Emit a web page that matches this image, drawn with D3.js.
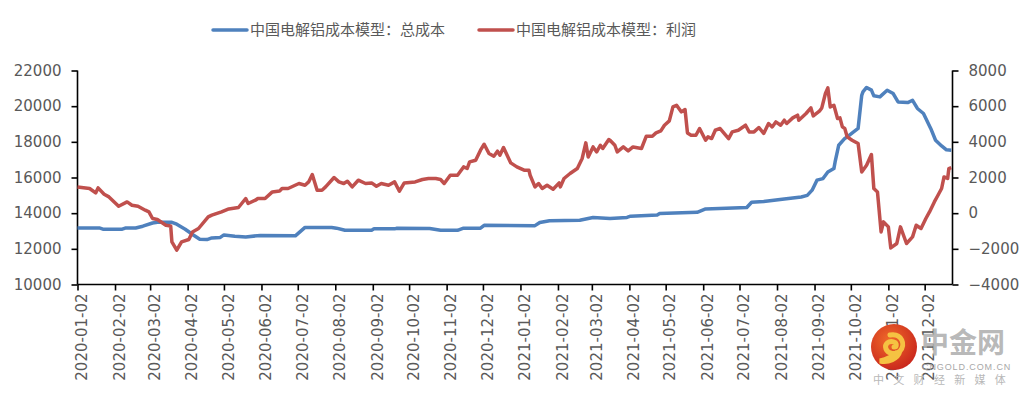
<!DOCTYPE html>
<html>

<head>
    <meta charset="utf-8">
    <title>中国电解铝成本模型</title>
    <style>
        body { margin: 0; background: #fff; }
        svg { display: block; }
        .tick-label { font-family: "DejaVu Sans", sans-serif; font-size: 15px; fill: #595959; }
        .legend-text { font-family: "Noto Sans CJK SC", sans-serif; font-size: 15px; fill: #595959; }
    </style>
</head>

<body>
    <script src="https://cdn.jsdelivr.net/npm/d3@7/dist/d3.min.js"></script>
    <script>
    // 系列名称
    let seriesNames = ["中国电解铝成本模型：总成本", "中国电解铝成本模型：利润"];

    // 坐标轴刻度
    let leftTicks = [10000, 12000, 14000, 16000, 18000, 20000, 22000];
    let rightTicks = [-4000, -2000, 0, 2000, 4000, 6000, 8000];
    let xTickLabels = ["2020-01-02", "2020-02-02", "2020-03-02", "2020-04-02", "2020-05-02", "2020-06-02",
        "2020-07-02", "2020-08-02", "2020-09-02", "2020-10-02", "2020-11-02", "2020-12-02",
        "2021-01-02", "2021-02-02", "2021-03-02", "2021-04-02", "2021-05-02", "2021-06-02",
        "2021-07-02", "2021-08-02", "2021-09-02", "2021-10-02", "2021-11-02", "2021-12-02"];

    // 总成本（左轴）
    let costData = [
        ["2020-01-02", 13170], ["2020-01-20", 13170], ["2020-01-23", 13100], ["2020-02-08", 13100],
        ["2020-02-11", 13170], ["2020-02-19", 13170], ["2020-02-25", 13270], ["2020-03-04", 13450],
        ["2020-03-08", 13490], ["2020-03-20", 13490], ["2020-03-24", 13380], ["2020-03-31", 13100],
        ["2020-04-07", 12760], ["2020-04-12", 12540], ["2020-04-18", 12520], ["2020-04-22", 12610],
        ["2020-04-29", 12640], ["2020-05-02", 12780], ["2020-05-11", 12710], ["2020-05-20", 12670],
        ["2020-06-01", 12750], ["2020-06-30", 12730], ["2020-07-08", 13200], ["2020-07-30", 13200],
        ["2020-08-03", 13160], ["2020-08-10", 13040], ["2020-09-01", 13040], ["2020-09-03", 13120],
        ["2020-09-20", 13120], ["2020-09-22", 13150], ["2020-10-19", 13140], ["2020-10-28", 13040],
        ["2020-11-11", 13040], ["2020-11-16", 13160], ["2020-11-30", 13160], ["2020-12-03", 13320],
        ["2021-01-14", 13300], ["2021-01-18", 13480], ["2021-01-26", 13580], ["2021-02-20", 13600],
        ["2021-03-03", 13760], ["2021-03-17", 13700], ["2021-03-31", 13760], ["2021-04-03", 13830],
        ["2021-04-25", 13900], ["2021-04-27", 13980], ["2021-05-28", 14050], ["2021-06-04", 14240],
        ["2021-07-08", 14320], ["2021-07-12", 14610], ["2021-07-22", 14650], ["2021-08-08", 14800],
        ["2021-08-22", 14910], ["2021-08-27", 15000], ["2021-08-31", 15290], ["2021-09-04", 15850],
        ["2021-09-09", 15940], ["2021-09-13", 16310], ["2021-09-18", 16500], ["2021-09-19", 16870],
        ["2021-09-22", 17810], ["2021-09-27", 18190], ["2021-09-29", 18280], ["2021-10-08", 18750],
        ["2021-10-11", 20610], ["2021-10-12", 20800], ["2021-10-15", 21050], ["2021-10-19", 20900],
        ["2021-10-21", 20580], ["2021-10-26", 20520], ["2021-11-01", 20890], ["2021-11-06", 20710],
        ["2021-11-10", 20240], ["2021-11-18", 20200], ["2021-11-22", 20330], ["2021-11-26", 19870],
        ["2021-12-01", 19590], ["2021-12-07", 18750], ["2021-12-11", 18090], ["2021-12-16", 17770],
        ["2021-12-20", 17550], ["2021-12-24", 17530]
    ];

    // 利润（右轴）
    let profitData = [
        ["2020-01-02", 1473], ["2020-01-12", 1383], ["2020-01-17", 1136], ["2020-01-19", 1417],
        ["2020-01-24", 1063], ["2020-01-28", 912], ["2020-02-05", 390], ["2020-02-12", 631],
        ["2020-02-16", 446], ["2020-02-21", 390], ["2020-02-27", 166], ["2020-03-01", 71],
        ["2020-03-04", -300], ["2020-03-08", -356], ["2020-03-15", -675], ["2020-03-19", -714],
        ["2020-03-20", -1611], ["2020-03-24", -2077], ["2020-03-28", -1611], ["2020-04-03", -1477],
        ["2020-04-06", -1051], ["2020-04-11", -860], ["2020-04-19", -210], ["2020-04-22", -114],
        ["2020-04-30", 71], ["2020-05-06", 239], ["2020-05-14", 317], ["2020-05-20", 822],
        ["2020-05-22", 542], ["2020-05-28", 727], ["2020-05-30", 822], ["2020-06-05", 822],
        ["2020-06-11", 1192], ["2020-06-17", 1248], ["2020-06-19", 1383], ["2020-06-24", 1383],
        ["2020-07-03", 1663], ["2020-07-08", 1568], ["2020-07-11", 1753], ["2020-07-14", 2168],
        ["2020-07-18", 1288], ["2020-07-22", 1288], ["2020-07-25", 1473], ["2020-08-01", 2000],
        ["2020-08-05", 1753], ["2020-08-09", 1663], ["2020-08-12", 1792], ["2020-08-16", 1473],
        ["2020-08-21", 1848], ["2020-08-27", 1663], ["2020-09-01", 1697], ["2020-09-05", 1512],
        ["2020-09-09", 1663], ["2020-09-15", 1568], ["2020-09-20", 1753], ["2020-09-24", 1231],
        ["2020-09-28", 1697], ["2020-10-07", 1753], ["2020-10-13", 1888], ["2020-10-18", 1943],
        ["2020-10-24", 1943], ["2020-10-28", 1888], ["2020-10-31", 1663], ["2020-11-05", 2128],
        ["2020-11-11", 2128], ["2020-11-16", 2594], ["2020-11-19", 2504], ["2020-11-21", 2874],
        ["2020-11-26", 2970], ["2020-11-30", 3530], ["2020-12-03", 3866], ["2020-12-07", 3345],
        ["2020-12-11", 3194], ["2020-12-14", 3474], ["2020-12-16", 3250], ["2020-12-19", 3682],
        ["2020-12-25", 2818], ["2020-12-30", 2594], ["2021-01-05", 2409], ["2021-01-09", 2409],
        ["2021-01-10", 2128], ["2021-01-14", 1473], ["2021-01-17", 1663], ["2021-01-20", 1383],
        ["2021-01-24", 1568], ["2021-01-29", 1344], ["2021-02-03", 1697], ["2021-02-04", 1473],
        ["2021-02-07", 1943], ["2021-02-12", 2224], ["2021-02-18", 2504], ["2021-02-22", 3065],
        ["2021-02-25", 3940], ["2021-02-27", 3154], ["2021-03-03", 3715], ["2021-03-06", 3435],
        ["2021-03-09", 3810], ["2021-03-11", 3626], ["2021-03-16", 4130], ["2021-03-17", 4091],
        ["2021-03-21", 3810], ["2021-03-23", 3435], ["2021-03-28", 3715], ["2021-04-01", 3491],
        ["2021-04-05", 3715], ["2021-04-12", 3626], ["2021-04-16", 4315], ["2021-04-21", 4315],
        ["2021-04-24", 4500], ["2021-04-28", 4612], ["2021-05-01", 4932], ["2021-05-05", 5173],
        ["2021-05-08", 5958], ["2021-05-11", 6053], ["2021-05-15", 5678], ["2021-05-18", 5813],
        ["2021-05-20", 4500], ["2021-05-23", 4371], ["2021-05-27", 4371], ["2021-05-30", 4747],
        ["2021-06-04", 4091], ["2021-06-06", 4277], ["2021-06-09", 4184], ["2021-06-12", 4652],
        ["2021-06-16", 4747], ["2021-06-23", 4184], ["2021-06-26", 4556], ["2021-07-01", 4652],
        ["2021-07-07", 4932], ["2021-07-10", 4556], ["2021-07-14", 4556], ["2021-07-18", 4803],
        ["2021-07-22", 4467], ["2021-07-26", 5027], ["2021-07-29", 4837], ["2021-08-01", 5117],
        ["2021-08-05", 4932], ["2021-08-08", 5212], ["2021-08-10", 5027], ["2021-08-15", 5342],
        ["2021-08-19", 5493], ["2021-08-20", 5212], ["2021-08-26", 5588], ["2021-08-30", 5902],
        ["2021-09-01", 5453], ["2021-09-06", 5717], ["2021-09-08", 5902], ["2021-09-11", 6709],
        ["2021-09-13", 7023], ["2021-09-15", 5958], ["2021-09-18", 6053], ["2021-09-21", 5308],
        ["2021-09-23", 5342], ["2021-09-25", 4837], ["2021-09-27", 4747], ["2021-09-29", 4276],
        ["2021-10-03", 4091], ["2021-10-08", 3906], ["2021-10-11", 2314], ["2021-10-15", 2690],
        ["2021-10-19", 3290], ["2021-10-21", 1383], ["2021-10-24", 1192], ["2021-10-27", -1050],
        ["2021-10-29", -490], ["2021-11-02", -770], ["2021-11-04", -1950], ["2021-11-09", -1700],
        ["2021-11-12", -770], ["2021-11-17", -1700], ["2021-11-22", -1330], ["2021-11-25", -675],
        ["2021-11-29", -860], ["2021-12-03", -300], ["2021-12-06", 71], ["2021-12-10", 631],
        ["2021-12-13", 1007], ["2021-12-16", 1383], ["2021-12-18", 2033], ["2021-12-21", 1943],
        ["2021-12-22", 2504], ["2021-12-24", 2560]
    ];

    let colors = ["#4F81BD", "#C0504D"];

    // 画布
    let width = 1027,
        height = 397;
    let plot = { left: 77.5, right: 952.5, top: 70.5, bottom: 284.5 };

    let svg = d3.select("body").append("svg").attr("width", width).attr("height", height);

    let parse = d3.timeParse("%Y-%m-%d");

    // 比例尺
    let xScale = d3.scaleTime()
        .domain([parse("2020-01-02"), parse("2021-12-25")])
        .range([plot.left, plot.right]);
    let yLeft = d3.scaleLinear().domain([10000, 22000]).range([plot.bottom, plot.top]);
    let yRight = d3.scaleLinear().domain([-4000, 8000]).range([plot.bottom, plot.top]);

    // 坐标轴
    let xAxis = d3.axisBottom(xScale)
        .tickValues(xTickLabels.map(parse))
        .tickSize(6)
        .tickFormat(d3.timeFormat("%Y-%m-%d"));
    let leftAxis = d3.axisLeft(yLeft).tickValues(leftTicks).tickFormat(d3.format("d"))
        .tickSize(6).tickPadding(10);
    let rightAxis = d3.axisRight(yRight).tickValues(rightTicks).tickFormat(d3.format("d"))
        .tickSize(6).tickPadding(10);

    function styleAxis(g) {
        g.select(".domain").attr("stroke", "#000").attr("stroke-width", 1.6);
        g.selectAll(".tick line").attr("stroke", "#000").attr("stroke-width", 1.6);
        g.selectAll(".tick text").attr("class", "tick-label").attr("fill", null);
        g.attr("font-family", null).attr("font-size", null);
    }

    let gx = svg.append("g")
        .attr("transform", "translate(0," + plot.bottom + ")")
        .call(xAxis)
        .call(styleAxis);
    gx.select(".domain").attr("d", "M" + plot.left + ",0H" + plot.right);
    gx.selectAll(".tick text")
        .attr("text-anchor", "end")
        .attr("transform", "translate(4,9) rotate(-90)")
        .attr("x", 0)
        .attr("y", 0)
        .attr("dy", "0.35em");

    let gl = svg.append("g")
        .attr("transform", "translate(" + plot.left + ",0)")
        .call(leftAxis)
        .call(styleAxis);
    gl.select(".domain").attr("d", "M0," + plot.top + "V" + plot.bottom);

    let gr = svg.append("g")
        .attr("transform", "translate(" + plot.right + ",0)")
        .call(rightAxis)
        .call(styleAxis);
    gr.select(".domain").attr("d", "M0," + plot.top + "V" + plot.bottom);

    // 折线
    let costLine = d3.line()
        .x(d => xScale(parse(d[0])))
        .y(d => yLeft(d[1]));
    let profitLine = d3.line()
        .x(d => xScale(parse(d[0])))
        .y(d => yRight(d[1]));

    svg.append("path")
        .datum(costData)
        .attr("d", costLine)
        .attr("fill", "none")
        .attr("stroke", colors[0])
        .attr("stroke-width", 3.5)
        .attr("stroke-linejoin", "round");

    svg.append("path")
        .datum(profitData)
        .attr("d", profitLine)
        .attr("fill", "none")
        .attr("stroke", colors[1])
        .attr("stroke-width", 3.5)
        .attr("stroke-linejoin", "round");

    // 图例
    let legendX = [213, 479];
    let legend = svg.selectAll(".legend")
        .data(seriesNames)
        .enter()
        .append("g")
        .attr("class", "legend")
        .attr("transform", (d, i) => "translate(" + legendX[i] + ",30)");
    legend.append("line")
        .attr("x1", 0).attr("x2", 34)
        .attr("stroke", (d, i) => colors[i])
        .attr("stroke-width", 3.5)
        .attr("stroke-linecap", "round");
    legend.append("text")
        .attr("class", "legend-text")
        .attr("x", 37)
        .attr("dy", "0.36em")
        .text(d => d);

    // 水印
    let wm = svg.append("g").attr("transform", "translate(894,347)");
    let grad = svg.append("defs").append("radialGradient").attr("id", "logoGrad")
        .attr("cx", "40%").attr("cy", "35%").attr("r", "70%");
    grad.append("stop").attr("offset", "0%").attr("stop-color", "#f06a2a");
    grad.append("stop").attr("offset", "100%").attr("stop-color", "#c8251c");
    wm.append("circle").attr("r", 23).attr("fill", "url(#logoGrad)");
    wm.append("path")
        .attr("d", "M-4,-12 C8,-14 12,-2 6,4 C2,8 -6,7 -8,2 C-10,-3 -5,-7 0,-5 C3,-4 3,0 0,0 M6,4 C4,12 -6,16 -14,14 C-6,12 -2,10 2,6")
        .attr("fill", "none")
        .attr("stroke", "#f5c242")
        .attr("stroke-width", 5)
        .attr("stroke-linecap", "round");
    svg.append("text")
        .attr("x", 921).attr("y", 353)
        .attr("font-family", "Noto Sans CJK SC")
        .attr("font-size", 28)
        .attr("font-weight", "bold")
        .attr("fill", "#b0b0b0")
        .attr("fill-opacity", 0.9)
        .text("中金网");
    svg.append("text")
        .attr("x", 922).attr("y", 370)
        .attr("font-family", "Liberation Sans")
        .attr("font-size", 9)
        .attr("letter-spacing", 0.9)
        .attr("fill", "#a8a8a8")
        .text("CNGOLD.COM.CN");
    svg.append("text")
        .attr("x", 873).attr("y", 384)
        .attr("font-family", "Noto Sans CJK SC")
        .attr("font-size", 11)
        .attr("letter-spacing", 9.3)
        .attr("fill", "#b8b8b8")
        .text("中文财经新媒体");
    </script>
</body>

</html>
